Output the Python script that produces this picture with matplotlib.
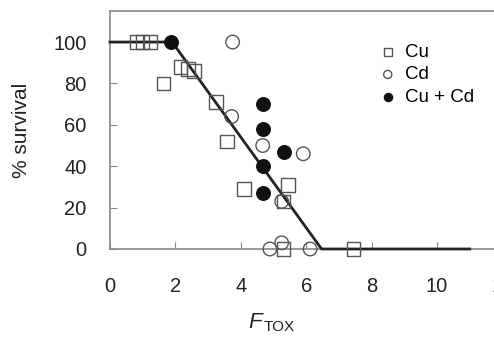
import matplotlib
matplotlib.use("Agg")
import matplotlib.pyplot as plt

# Data
cu_x = [0.83, 1.0, 1.22, 1.63, 2.16, 2.39, 2.57, 3.24, 3.57, 4.10, 5.45, 5.30, 5.30, 7.44]
cu_y = [100, 100, 100, 80, 88, 87, 86, 71, 52, 29, 31, 23, 0, 0]
cd_x = [3.75, 3.72, 4.67, 5.91, 5.25, 4.89, 5.25, 6.12]
cd_y = [100, 64, 50, 46, 23, 0, 3, 0]
cucd_x = [1.87, 4.67, 4.67, 4.67, 4.67, 5.32]
cucd_y = [100, 70, 58, 40, 27, 47]
fit_x = [0, 1.9, 6.47, 11.0]
fit_y = [100, 100, 0, 0]
x_ticks = [0, 2, 4, 6, 8, 10, 12]
y_ticks = [0, 20, 40, 60, 80, 100]

plt.rcParams['font.family'] = ['Liberation Sans', 'DejaVu Sans']
fig = plt.figure(figsize=(4.94, 3.5), dpi=100)
ax = fig.add_axes([110/494, 101/350, 392.4/494, 238/350])

spine_col = '#888888'
ax.plot(fit_x, fit_y, color='#222222', lw=2.0, zorder=3, clip_on=False)
ax.scatter(cu_x, cu_y, marker='s', s=95, facecolors='none', edgecolors='#555555',
           linewidths=1.0, zorder=4, clip_on=False, label='Cu')
ax.scatter(cd_x, cd_y, marker='o', s=95, facecolors='none', edgecolors='#555555',
           linewidths=1.0, zorder=4, clip_on=False, label='Cd')
ax.scatter(cucd_x, cucd_y, marker='o', s=95, facecolors='#111111', edgecolors='#111111',
           linewidths=1.0, zorder=5, clip_on=False, label='Cu + Cd')

ax.set_xlim(0, 12)
ax.set_ylim(0, 115)
ax.set_xticks(x_ticks)
ax.set_yticks(y_ticks)
ax.tick_params(direction='in', length=5, color=spine_col, labelsize=14.5,
               labelcolor='#222222')
ax.tick_params(axis='x', pad=20)
ax.tick_params(axis='y', pad=17)
for sp in ax.spines.values():
    sp.set_color(spine_col)
    sp.set_linewidth(1.2)

ax.set_ylabel('% survival', fontsize=15, color='#222222')
ax.yaxis.set_label_coords(-(110 - 31) / 392.4, 0.5)
fig.text(248/494, 1 - 322/350, 'F', fontsize=16, style='italic', color='#222222',
         va='center', ha='left')
fig.text(264/494, 1 - 327/350, 'TOX', fontsize=11, color='#222222',
         va='center', ha='left')

leg = ax.legend(loc='upper left', bbox_to_anchor=(0.66, 0.895), frameon=False,
                fontsize=13.5, handletextpad=0.3, labelspacing=0.3,
                markerscale=0.6, borderaxespad=0, handlelength=1.2)

fig.savefig('out.png', dpi=100)
